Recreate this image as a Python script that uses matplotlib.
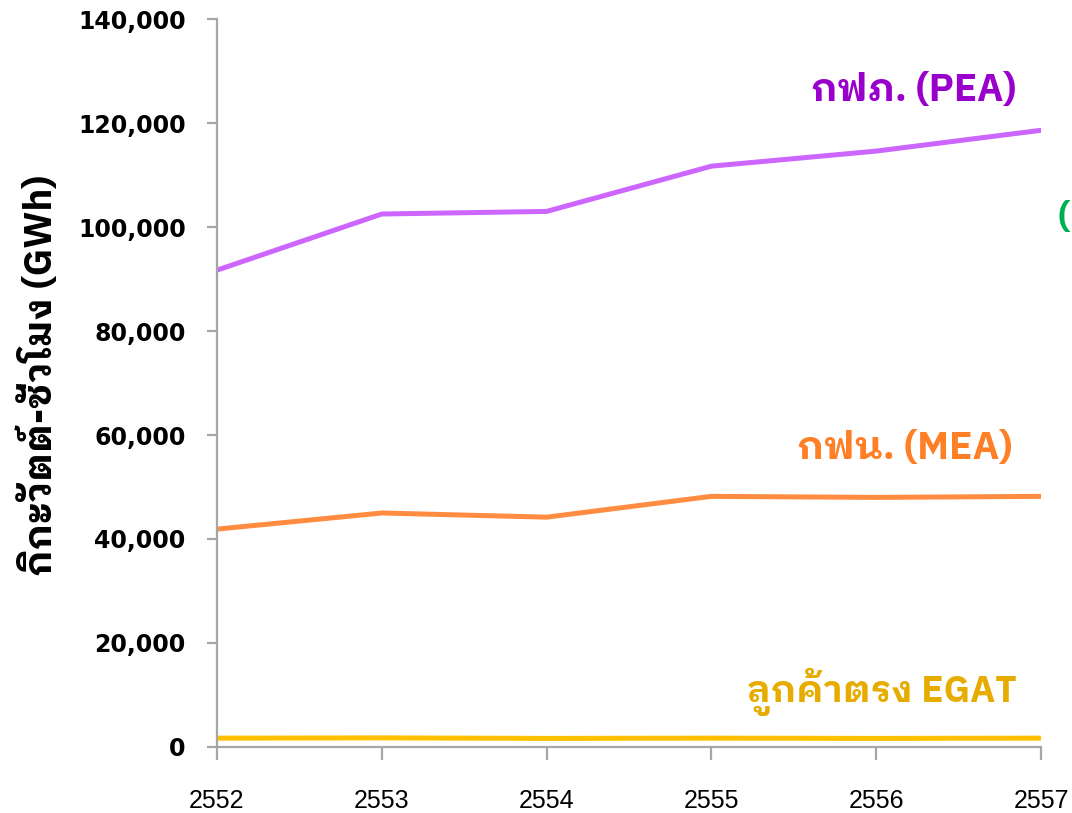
import matplotlib
matplotlib.use('Agg')
import matplotlib.pyplot as plt
from matplotlib.ticker import FuncFormatter

# ข้อมูลการใช้ไฟฟ้า (GWh)
years = [2552, 2553, 2554, 2555, 2556, 2557]
pea = [91700, 102500, 103000, 111700, 114600, 118600]
mea = [41900, 45000, 44200, 48200, 48000, 48200]
egat = [1700, 1750, 1650, 1700, 1650, 1700]

thai = ['IBM Plex Sans Thai Looped', 'DejaVu Sans']
grey = '#A6A6A6'

fig = plt.figure(figsize=(10.72, 8.13), dpi=100)
ax = fig.add_axes([0.2024, 0.0812, 0.7687, 0.8954])

ax.plot(years, pea, color='#CC66FF', lw=3.6, solid_capstyle='round')
ax.plot(years, mea, color='#FF8C40', lw=3.6, solid_capstyle='round')
ax.plot(years, egat, color='#FFC000', lw=3.6, solid_capstyle='round')

ax.set_xlim(2552, 2557)
ax.set_ylim(0, 140000)
ax.set_xticks(years)
ax.set_yticks(range(0, 140001, 20000))
ax.yaxis.set_major_formatter(FuncFormatter(lambda v, p: f'{int(v):,}'))

for s in ['top', 'right']:
    ax.spines[s].set_visible(False)
for s in ['left', 'bottom']:
    ax.spines[s].set_color(grey)
    ax.spines[s].set_linewidth(1.6)

ax.tick_params(axis='y', direction='out', length=7.5, width=1.6, color=grey, pad=15)
ax.tick_params(axis='x', direction='out', length=9, width=1.6, color=grey, pad=21)
for t in ax.get_yticklabels():
    t.set_fontfamily('DejaVu Sans')
    t.set_fontweight('bold')
    t.set_fontsize(17)
for t in ax.get_xticklabels():
    t.set_fontfamily('Liberation Sans')
    t.set_fontsize(18)

ax.set_ylabel('กิกะวัตต์-ชั่วโมง (GWh)', family=thai, fontweight='bold', fontsize=27.5)
ax.yaxis.set_label_coords(-0.19, 0.51)

# ป้ายชื่อเส้น
ax.text(0.97, 0.902, 'กฟภ. (PEA)', transform=ax.transAxes, ha='right', va='center',
        family=thai, fontweight='bold', fontsize=27.5, color='#9900CC')
ax.text(0.965, 0.41, 'กฟน. (MEA)', transform=ax.transAxes, ha='right', va='center',
        family=thai, fontweight='bold', fontsize=28, color='#FF7F27')
ax.text(0.97, 0.075, 'ลูกค้าตรง EGAT', transform=ax.transAxes, ha='right', va='center',
        family=thai, fontweight='bold', fontsize=26.5, color='#E6AC00')
ax.text(1.02, 0.728, '(EGAT)', transform=ax.transAxes, ha='left', va='center',
        family=thai, fontweight='bold', fontsize=26, color='#00B050')

fig.savefig('out.png', dpi=100)
